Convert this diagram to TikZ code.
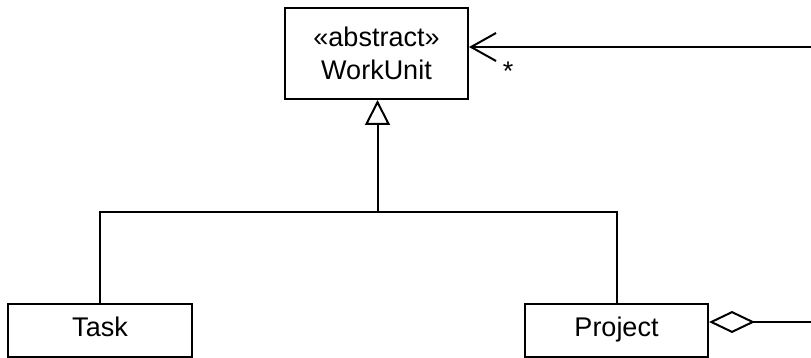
\documentclass[tikz,border=0pt]{standalone}
\usepackage{fontspec}
\setmainfont{Liberation Sans}
\usetikzlibrary{arrows.meta, positioning}

\begin{document}
\begin{tikzpicture}[
        x=1pt, y=-1pt,
        line width=2pt,
        every node/.style={font=\fontsize{27}{33}\selectfont},
        umlclass/.style={draw, inner sep=0pt, align=center, minimum width=183pt, minimum height=53pt},
        umlleaf/.style={umlclass, text height=19pt, text depth=7pt}]

        \useasboundingbox (0,0) rectangle (811,358);

        \node[umlclass, minimum height=91pt] (WorkUnit) at (376.5,53.5) {«abstract»\\WorkUnit};
        \node[umlleaf, minimum width=184pt] (Task) at (100,330.5) {Task};
        \node[umlleaf] (Project) at (616.5,330.5) {Project};

        \coordinate (split) at (377.5,212);
        \coordinate (unitsIn) at (811,47);
        \coordinate (partsIn) at (811,322);

        \draw[-] (Task.north) |- (split) -| (Project.north);
        \draw[-{Triangle[open, length=25pt, width=25pt]}] (split) -- (split |- WorkUnit.south);
        \draw[-{Straight Barb[length=25pt, width=28pt]}] (unitsIn) -- (unitsIn -| WorkUnit.east);
        \draw[-{Diamond[open, length=46pt, width=22pt]}] (partsIn) -- (partsIn -| Project.east);
        \node[anchor=base] (many) at (508,81) {*};

    \end{tikzpicture}
\end{document}
